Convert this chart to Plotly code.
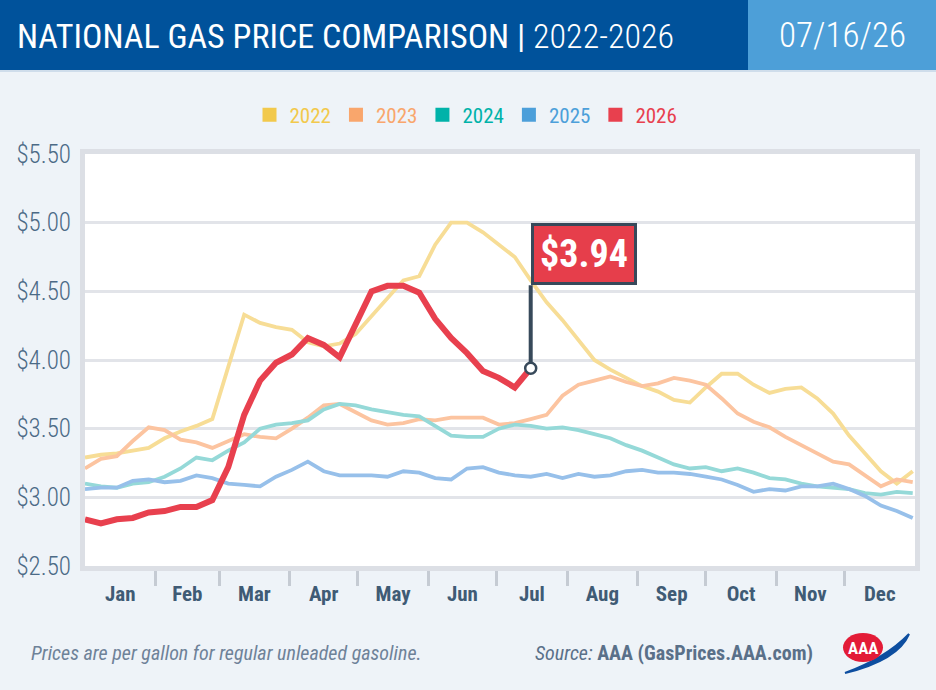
import plotly.graph_objects as go

# weekly readings, day of year (Jan 1 = 0)
days = list(range(0, 365, 7))

prices_2022 = [3.29, 3.31, 3.32, 3.34, 3.36, 3.43, 3.48, 3.52, 3.57, 3.95,
               4.33, 4.27, 4.24, 4.22, 4.13, 4.10, 4.12, 4.19, 4.32, 4.45,
               4.58, 4.61, 4.84, 5.00, 5.00, 4.93, 4.84, 4.75, 4.58, 4.42,
               4.29, 4.14, 4.00, 3.93, 3.87, 3.81, 3.77, 3.71, 3.69, 3.80,
               3.90, 3.90, 3.82, 3.76, 3.79, 3.80, 3.72, 3.61, 3.45, 3.32,
               3.19, 3.10, 3.19]
prices_2023 = [3.21, 3.28, 3.30, 3.41, 3.51, 3.49, 3.42, 3.40, 3.36, 3.41,
               3.46, 3.44, 3.43, 3.50, 3.58, 3.67, 3.68, 3.62, 3.56, 3.53,
               3.54, 3.57, 3.56, 3.58, 3.58, 3.58, 3.53, 3.54, 3.57, 3.60,
               3.74, 3.82, 3.85, 3.88, 3.84, 3.81, 3.83, 3.87, 3.85, 3.82,
               3.72, 3.61, 3.55, 3.51, 3.44, 3.38, 3.32, 3.26, 3.24, 3.16,
               3.08, 3.13, 3.11]
prices_2024 = [3.10, 3.08, 3.07, 3.10, 3.11, 3.15, 3.21, 3.29, 3.27, 3.34,
               3.40, 3.50, 3.53, 3.54, 3.56, 3.64, 3.68, 3.67, 3.64, 3.62,
               3.60, 3.59, 3.52, 3.45, 3.44, 3.44, 3.50, 3.53, 3.52, 3.50,
               3.51, 3.49, 3.46, 3.43, 3.38, 3.34, 3.29, 3.24, 3.21, 3.22,
               3.19, 3.21, 3.18, 3.14, 3.13, 3.10, 3.08, 3.07, 3.06, 3.03,
               3.02, 3.04, 3.03]
prices_2025 = [3.06, 3.07, 3.07, 3.12, 3.13, 3.11, 3.12, 3.16, 3.14, 3.10,
               3.09, 3.08, 3.15, 3.20, 3.26, 3.19, 3.16, 3.16, 3.16, 3.15,
               3.19, 3.18, 3.14, 3.13, 3.21, 3.22, 3.18, 3.16, 3.15, 3.17,
               3.14, 3.17, 3.15, 3.16, 3.19, 3.20, 3.18, 3.18, 3.17, 3.15,
               3.13, 3.09, 3.04, 3.06, 3.05, 3.08, 3.08, 3.10, 3.06, 3.01,
               2.94, 2.90, 2.85]
prices_2026 = [2.84, 2.81, 2.84, 2.85, 2.89, 2.90, 2.93, 2.93, 2.98, 3.22,
               3.60, 3.85, 3.98, 4.04, 4.16, 4.11, 4.02, 4.25, 4.50, 4.54,
               4.54, 4.49, 4.30, 4.16, 4.05, 3.92, 3.87, 3.80, 3.94]

years = ["2022", "2023", "2024", "2025", "2026"]
series = [prices_2022, prices_2023, prices_2024, prices_2025, prices_2026]
key_colors = ["#F2C94C", "#F9A66C", "#00B2A9", "#4C9FDA", "#E8404E"]
line_colors = ["#F7DD96", "#FCC4A0", "#95D9D8", "#97C0EA", "#E8404E"]

month_names = ["Jan", "Feb", "Mar", "Apr", "May", "Jun",
               "Jul", "Aug", "Sep", "Oct", "Nov", "Dec"]
month_starts = [0, 31, 59, 90, 120, 151, 181, 212, 243, 273, 304, 334, 365]
y_ticks = [2.5, 3.0, 3.5, 4.0, 4.5, 5.0, 5.5]

COND = "Roboto Condensed, DejaVu Sans Condensed, sans-serif"

# plot area in pixels, used to place header / footer items
L, R, T, B = 85, 915, 154, 566


def fx(p):
    return (p - L) / (R - L)


def fy(p):
    return (B - p) / (B - T)


fig = go.Figure()

for year, vals, lc in zip(years, series, line_colors):
    fig.add_trace(go.Scatter(
        x=days[:len(vals)], y=vals, mode="lines", showlegend=False,
        line=dict(color=lc, width=6 if year == "2026" else 3.8),
        hoverinfo="skip"))

# legend keys
for year, kc in zip(years, key_colors):
    fig.add_trace(go.Scatter(
        x=[None], y=[None], mode="markers",
        marker=dict(symbol="square", size=14, color=kc),
        name='<span style="color:%s">%s</span>' % (kc, year)))

# end point of current year
last_day = days[len(prices_2026) - 1]
last_val = prices_2026[-1]
fig.add_trace(go.Scatter(
    x=[last_day], y=[last_val], mode="markers", showlegend=False,
    hoverinfo="skip",
    marker=dict(size=11, color="white", line=dict(color="#37495A", width=2.5))))

month_mids = [(a + b) / 2 for a, b in zip(month_starts[:-1], month_starts[1:])]

fig.update_layout(
    width=936, height=690,
    margin=dict(l=L, r=936 - R, t=T, b=690 - B),
    paper_bgcolor="#EEF3F8", plot_bgcolor="white",
    legend=dict(orientation="h", x=fx(466), xanchor="center", y=fy(115),
                yanchor="middle", itemwidth=30, bgcolor="rgba(0,0,0,0)",
                font=dict(family=COND, size=21)),
    xaxis=dict(range=[0, 365], tickmode="array", tickvals=month_mids,
               ticktext=month_names, ticks="outside", ticklen=5,
               tickcolor="rgba(0,0,0,0)", showgrid=False, zeroline=False,
               automargin=False,
               showline=True, mirror=True, linecolor="#DCDFE5", linewidth=5,
               tickfont=dict(family=COND, size=21, color="#3F5B75", weight="bold"),
               minor=dict(tickmode="array", tickvals=month_starts[1:-1],
                          ticks="outside", ticklen=15, tickwidth=2.5,
                          tickcolor="#C5CBD3", showgrid=False)),
    yaxis=dict(range=[2.5, 5.5], tickmode="array", tickvals=y_ticks,
               ticktext=["$%.2f" % v for v in y_ticks], ticks="outside",
               ticklen=4, tickcolor="rgba(0,0,0,0)", showgrid=True,
               gridcolor="#E2E4E9", gridwidth=2.5, zeroline=False,
               automargin=False, showline=True, mirror=True,
               linecolor="#DCDFE5", linewidth=5,
               tickfont=dict(family=COND, size=25, color="#4B6A86", weight=300)),
)

# header bands
fig.add_shape(type="rect", xref="paper", yref="paper", x0=fx(0), x1=fx(936),
              y0=fy(70), y1=fy(0), fillcolor="#00529B", line_width=0)
fig.add_shape(type="rect", xref="paper", yref="paper", x0=fx(748), x1=fx(936),
              y0=fy(70), y1=fy(0), fillcolor="#4D9FD8", line_width=0)
fig.add_shape(type="line", xref="paper", yref="paper", x0=fx(0), x1=fx(936),
              y0=fy(71), y1=fy(71), line=dict(color="#CFDDEB", width=2))

fig.add_annotation(xref="paper", yref="paper", x=fx(15), y=fy(36),
                   xanchor="left", yanchor="middle", showarrow=False,
                   text="NATIONAL GAS PRICE COMPARISON | "
                        '<span style="font-weight:300">2022-2026</span>',
                   font=dict(family=COND, size=34, color="white"))
fig.add_annotation(xref="paper", yref="paper", x=fx(842), y=fy(36),
                   xanchor="center", yanchor="middle", showarrow=False,
                   text="07/16/26",
                   font=dict(family=COND, size=35, color="white", weight=300))

# price flag
fig.add_annotation(x=last_day, y=last_val, ax=0, ay=-83, xanchor="left",
                   yanchor="bottom", showarrow=True, arrowhead=0,
                   arrowwidth=4, arrowcolor="#37495A", standoff=5,
                   text="<b>$%.2f</b>" % last_val, bgcolor="#E63E4B",
                   bordercolor="#37495A", borderwidth=3, borderpad=6,
                   font=dict(family=COND, size=38, color="white"))

# footer
fig.add_annotation(xref="paper", yref="paper", x=fx(29), y=fy(653),
                   xanchor="left", yanchor="middle", showarrow=False,
                   text="<i>Prices are per gallon for regular unleaded gasoline.</i>",
                   font=dict(family=COND, size=20, color="#6E8298"))
fig.add_annotation(xref="paper", yref="paper", x=fx(815), y=fy(653),
                   xanchor="right", yanchor="middle", showarrow=False,
                   text="<i>Source:</i> <b>AAA (GasPrices.AAA.com)</b>",
                   font=dict(family=COND, size=20, color="#5A7089"))

# AAA logo
swoosh = "M %f,%f Q %f,%f %f,%f Q %f,%f %f,%f Z" % (
    fx(845), fy(673), fx(898), fy(660), fx(909), fy(634),
    fx(886), fy(658), fx(845), fy(673))
fig.add_shape(type="path", xref="paper", yref="paper", path=swoosh,
              fillcolor="#0D4EA0", line=dict(color="#0D4EA0", width=2))
fig.add_shape(type="circle", xref="paper", yref="paper", x0=fx(843), x1=fx(883),
              y0=fy(662), y1=fy(633), fillcolor="#E31B37", line_width=0)
fig.add_annotation(xref="paper", yref="paper", x=fx(863), y=fy(647.5),
                   xanchor="center", yanchor="middle", showarrow=False,
                   text="<b>AAA</b>",
                   font=dict(family=COND, size=17, color="white"))

# drop the page's default body margin so the figure fills the window
fig.write_html("out.html", config={"displayModeBar": False},
               post_script="document.body.style.margin='0';")
